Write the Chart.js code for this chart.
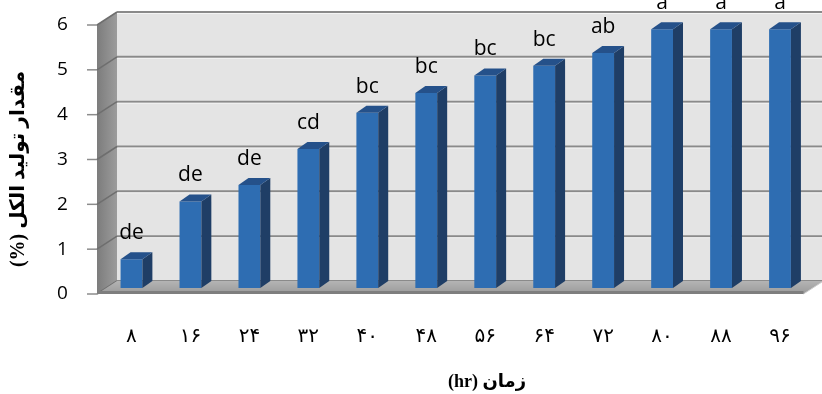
<!DOCTYPE html>
<html>
<head>
<meta charset="utf-8">
<script src="https://cdn.jsdelivr.net/npm/chart.js@4.4.1/dist/chart.umd.min.js"></script>
<style>
  html, body { margin: 0; padding: 0; background: #ffffff; }
  #wrap { width: 822px; height: 394px; position: relative; }
</style>
</head>
<body>
<div id="wrap"><canvas id="chart" width="822" height="394"></canvas></div>
<script>
// Fermentation time (hours), alcohol yield (%) and significance groups
const hours = ['۸', '۱۶', '۲۴', '۳۲', '۴۰', '۴۸', '۵۶', '۶۴', '۷۲', '۸۰', '۸۸', '۹۶'];
const alcohol = [0.64, 1.93, 2.30, 3.10, 3.91, 4.35, 4.74, 4.96, 5.24, 5.77, 5.77, 5.77];
const groups = ['de', 'de', 'de', 'cd', 'bc', 'bc', 'bc', 'bc', 'ab', 'a', 'a', 'a'];
const yTicks = [0, 1, 2, 3, 4, 5, 6];

const xTitle = 'زمان (hr)';
const yTitle = 'مقدار تولید الکل (%)';

// oblique depth of the plot box and of each column
const WALL_DX = 20, WALL_DY = 13;
const BAR_SHIFT_Y = 6;
const BAR_DX = 10, BAR_DY = 7;

const latinFont = "'Open Sans', 'DejaVu Sans', sans-serif";
const titleFont = "'Liberation Serif', 'DejaVu Sans', serif";

// back wall, side wall, floor and grid of the 3D box
const box3d = {
  id: 'box3d',
  beforeDatasetsDraw(chart) {
    const { ctx, chartArea: a, scales: { y } } = chart;
    const fl = a.left - 5, fr = a.right - 6;
    const y0 = y.getPixelForValue(0), yTop = y.getPixelForValue(6);
    ctx.save();

    // back wall
    ctx.fillStyle = '#e4e4e4';
    ctx.fillRect(fl + WALL_DX, yTop - WALL_DY, fr - fl + 20, y0 - yTop);

    // side wall
    const sg = ctx.createLinearGradient(fl, 0, fl + WALL_DX, 0);
    sg.addColorStop(0, '#7c7c7c');
    sg.addColorStop(1, '#9c9c9c');
    ctx.fillStyle = sg;
    ctx.beginPath();
    ctx.moveTo(fl, yTop);
    ctx.lineTo(fl + WALL_DX, yTop - WALL_DY);
    ctx.lineTo(fl + WALL_DX, y0 - WALL_DY);
    ctx.lineTo(fl, y0);
    ctx.closePath();
    ctx.fill();

    // grid lines on back and side walls
    yTicks.forEach(v => {
      const py = y.getPixelForValue(v);
      ctx.strokeStyle = '#8a8a8a';
      ctx.lineWidth = 2;
      ctx.beginPath();
      ctx.moveTo(fl + WALL_DX, py - WALL_DY);
      ctx.lineTo(fr + 40, py - WALL_DY);
      ctx.stroke();
      ctx.strokeStyle = 'rgba(255,255,255,0.6)';
      ctx.lineWidth = 1;
      ctx.beginPath();
      ctx.moveTo(fl + WALL_DX, py - WALL_DY + 1.5);
      ctx.lineTo(fr + 40, py - WALL_DY + 1.5);
      ctx.stroke();
      ctx.strokeStyle = '#6e6e6e';
      ctx.lineWidth = 1.5;
      ctx.beginPath();
      ctx.moveTo(fl, py);
      ctx.lineTo(fl + WALL_DX, py - WALL_DY);
      ctx.stroke();
      // tick marks
      ctx.strokeStyle = '#8c8c8c';
      ctx.lineWidth = 1.5;
      ctx.beginPath();
      ctx.moveTo(fl - 10, py);
      ctx.lineTo(fl, py);
      ctx.stroke();
    });

    // floor
    const fg = ctx.createLinearGradient(0, y0 - WALL_DY, 0, y0);
    fg.addColorStop(0, '#b4b4b4');
    fg.addColorStop(1, '#9a9a9a');
    ctx.fillStyle = fg;
    ctx.beginPath();
    ctx.moveTo(fl, y0);
    ctx.lineTo(fl + WALL_DX, y0 - WALL_DY);
    ctx.lineTo(fr + WALL_DX, y0 - WALL_DY);
    ctx.lineTo(fr, y0);
    ctx.closePath();
    ctx.fill();
    ctx.fillStyle = '#7e7e7e';
    ctx.fillRect(fl, y0 - 3, fr - fl, 3);
    ctx.strokeStyle = '#cfcfcf';
    ctx.lineWidth = 1;
    ctx.beginPath();
    ctx.moveTo(fr, y0);
    ctx.lineTo(fr + WALL_DX, y0 - WALL_DY);
    ctx.stroke();

    ctx.restore();
    // columns stand a little behind the front plane
    ctx.save();
    ctx.translate(0, -BAR_SHIFT_Y);
  },
  afterDatasetsDraw(chart) {
    const { ctx } = chart;
    const meta = chart.getDatasetMeta(0);
    meta.data.forEach((bar, i) => {
      const p = bar.getProps(['x', 'y', 'base', 'width'], true);
      const x0 = p.x - p.width / 2, x1 = p.x + p.width / 2;
      // side face
      ctx.fillStyle = '#1f3e66';
      ctx.beginPath();
      ctx.moveTo(x1, p.y);
      ctx.lineTo(x1 + BAR_DX, p.y - BAR_DY);
      ctx.lineTo(x1 + BAR_DX, p.base - BAR_DY);
      ctx.lineTo(x1, p.base);
      ctx.closePath();
      ctx.fill();
      // top face
      ctx.fillStyle = '#25518a';
      ctx.beginPath();
      ctx.moveTo(x0, p.y);
      ctx.lineTo(x0 + BAR_DX, p.y - BAR_DY);
      ctx.lineTo(x1 + BAR_DX, p.y - BAR_DY);
      ctx.lineTo(x1, p.y);
      ctx.closePath();
      ctx.fill();
      // group letter
      ctx.fillStyle = '#000000';
      ctx.font = '21px ' + latinFont;
      ctx.textAlign = 'center';
      ctx.textBaseline = 'alphabetic';
      ctx.fillText(groups[i], p.x, p.y - BAR_DY - 13);
    });
    ctx.restore();

    // axis titles
    ctx.save();
    ctx.fillStyle = '#000000';
    ctx.direction = 'rtl';
    ctx.textAlign = 'center';
    ctx.textBaseline = 'middle';
    ctx.font = 'bold 18px ' + titleFont;
    ctx.fillText(xTitle, 487, 382);
    ctx.font = 'bold 20px ' + titleFont;
    ctx.translate(19, 169);
    ctx.rotate(-Math.PI / 2);
    ctx.fillText(yTitle, 0, 0);
    ctx.restore();
  }
};

new Chart(document.getElementById('chart'), {
  type: 'bar',
  data: {
    labels: hours,
    datasets: [{
      data: alcohol,
      backgroundColor: '#2e6db2',
      borderWidth: 0,
      categoryPercentage: 1,
      barPercentage: 0.37
    }]
  },
  options: {
    responsive: false,
    animation: false,
    devicePixelRatio: 1,
    layout: { padding: { top: 25, right: 6, left: 57, bottom: 0 } },
    plugins: { legend: { display: false }, tooltip: { enabled: false } },
    scales: {
      x: {
        grid: { display: false, drawTicks: false },
        border: { display: false },
        ticks: {
          color: '#000000',
          font: { family: "'DejaVu Sans', sans-serif", size: 20 },
          padding: 31,
          maxRotation: 0,
          autoSkip: false
        },
        afterFit(scale) { scale.height = 100; }
      },
      y: {
        min: 0,
        max: 6,
        grid: { display: false, drawTicks: false },
        border: { display: false },
        ticks: {
          stepSize: 1,
          color: '#000000',
          font: { family: latinFont, size: 19 },
          padding: 0,
          crossAlign: 'far'
        },
        afterFit(scale) { scale.width = 45; }
      }
    }
  },
  plugins: [box3d]
});
</script>
</body>
</html>
